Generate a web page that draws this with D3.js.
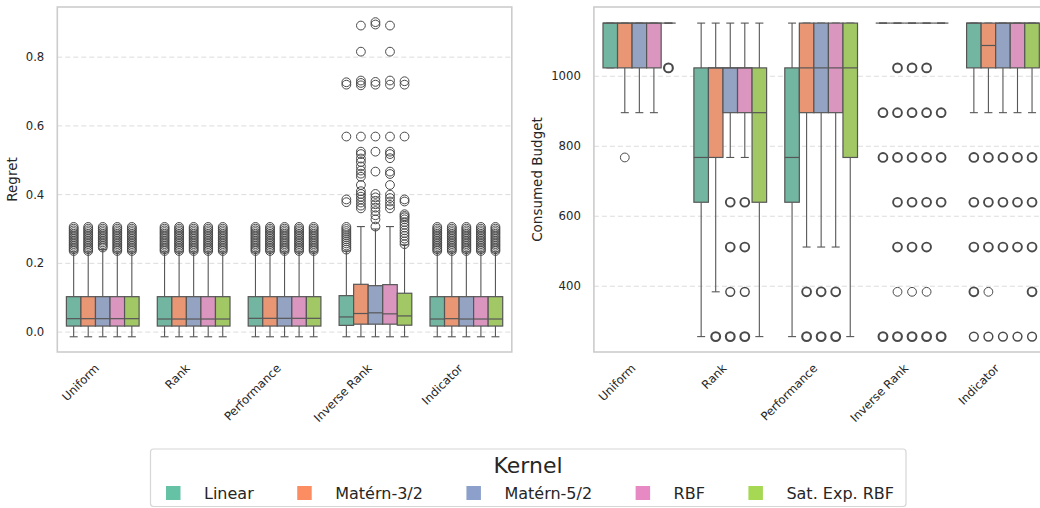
<!DOCTYPE html>
<html>
<head>
<meta charset="utf-8">
<script src="https://cdn.jsdelivr.net/npm/d3@7"></script>
<style>
  html, body { margin: 0; padding: 0; background: #fff; }
  svg { display: block; font-family: "DejaVu Sans", sans-serif; }
</style>
</head>
<body>
<svg id="chart" width="1040" height="508"></svg>
<script>
// ---- data -------------------------------------------------------------
const methods = ["Uniform", "Rank", "Performance", "Inverse Rank", "Indicator"];
const kernels = ["Linear", "Matérn-3/2", "Matérn-5/2", "RBF", "Sat. Exp. RBF"];
const kernelColors = ["#66c2a5", "#fc8d62", "#8da0cb", "#e78ac3", "#a6d854"];

const regretTicks = [0.0, 0.2, 0.4, 0.6, 0.8];
const budgetTicks = [400, 600, 800, 1000];

// Regret box statistics, rows = methods, columns = kernels
const regretQ1 = [
  [0.0175, 0.0175, 0.0175, 0.0175, 0.0175],
  [0.0175, 0.0175, 0.0175, 0.0175, 0.0175],
  [0.0175, 0.0175, 0.0175, 0.0175, 0.0175],
  [0.0195, 0.023, 0.023, 0.023, 0.020],
  [0.0175, 0.0175, 0.0175, 0.0175, 0.0175]
];
const regretMedian = [
  [0.039, 0.039, 0.039, 0.039, 0.039],
  [0.038, 0.038, 0.038, 0.038, 0.038],
  [0.040, 0.040, 0.040, 0.040, 0.040],
  [0.044, 0.054, 0.056, 0.053, 0.047],
  [0.038, 0.039, 0.038, 0.038, 0.038]
];
const regretQ3 = [
  [0.103, 0.103, 0.103, 0.103, 0.103],
  [0.103, 0.103, 0.103, 0.103, 0.103],
  [0.103, 0.103, 0.103, 0.103, 0.103],
  [0.106, 0.139, 0.135, 0.138, 0.113],
  [0.103, 0.103, 0.103, 0.103, 0.103]
];
const regretLow = [
  [-0.0137, -0.0137, -0.0137, -0.0137, -0.0137],
  [-0.0137, -0.0137, -0.0137, -0.0137, -0.0137],
  [-0.0137, -0.0137, -0.0137, -0.0137, -0.0137],
  [-0.0137, -0.0137, -0.0137, -0.0137, -0.0137],
  [-0.0137, -0.0137, -0.0137, -0.0137, -0.0137]
];
const regretHigh = [
  [0.233, 0.233, 0.240, 0.233, 0.233],
  [0.233, 0.233, 0.233, 0.233, 0.233],
  [0.233, 0.233, 0.233, 0.233, 0.233],
  [0.236, 0.307, 0.300, 0.307, 0.254],
  [0.233, 0.233, 0.233, 0.233, 0.233]
];

// Regret outliers
const regretTail = [0.236, 0.241, 0.246, 0.251, 0.256, 0.261, 0.266, 0.271, 0.276,
                    0.281, 0.286, 0.291, 0.296, 0.301, 0.306];
const regretTailHigh = [0.246, 0.251, 0.256, 0.261, 0.266, 0.271, 0.276,
                        0.281, 0.286, 0.291, 0.296, 0.301, 0.306];
const invRankLinear = [0.240, 0.246, 0.252, 0.258, 0.264, 0.270, 0.276, 0.282, 0.288,
                       0.294, 0.300, 0.306, 0.378, 0.386, 0.569, 0.720, 0.727];
const invRankMatern32 = [0.360, 0.368, 0.377, 0.386, 0.394, 0.402, 0.410, 0.428, 0.452,
                         0.461, 0.470, 0.482, 0.495, 0.505, 0.518, 0.525, 0.569,
                         0.718, 0.725, 0.732, 0.816, 0.892];
const invRankMatern52 = [0.307, 0.328, 0.340, 0.352, 0.362, 0.372, 0.382, 0.392, 0.402,
                         0.467, 0.525, 0.569, 0.720, 0.728, 0.895, 0.902];
const invRankRBF = [0.360, 0.370, 0.380, 0.390, 0.400, 0.428, 0.460, 0.467, 0.506,
                    0.518, 0.525, 0.569, 0.720, 0.732, 0.816, 0.892];
const invRankSatExp = [0.256, 0.264, 0.272, 0.280, 0.288, 0.296, 0.304, 0.312, 0.320,
                       0.328, 0.334, 0.338, 0.343, 0.380, 0.386, 0.569, 0.720, 0.730];
const regretOutliers = [
  [regretTail, regretTail, regretTailHigh, regretTail, regretTail],
  [regretTail, regretTail, regretTail, regretTail, regretTail],
  [regretTail, regretTail, regretTail, regretTail, regretTail],
  [invRankLinear, invRankMatern32, invRankMatern52, invRankRBF, invRankSatExp],
  [regretTail, regretTail, regretTail, regretTail, regretTail]
];

// Consumed budget box statistics
const budgetQ1 = [
  [1024, 1024, 1024, 1024, 1152],
  [640, 768, 896, 896, 640],
  [640, 896, 896, 896, 768],
  [1152, 1152, 1152, 1152, 1152],
  [1024, 1024, 1024, 1024, 1024]
];
const budgetMedian = [
  [1152, 1152, 1152, 1152, 1152],
  [768, 1024, 1024, 1024, 896],
  [768, 1024, 1024, 1024, 1024],
  [1152, 1152, 1152, 1152, 1152],
  [1152, 1088, 1152, 1152, 1152]
];
const budgetQ3 = [
  [1152, 1152, 1152, 1152, 1152],
  [1024, 1024, 1024, 1024, 1024],
  [1024, 1152, 1152, 1152, 1152],
  [1152, 1152, 1152, 1152, 1152],
  [1152, 1152, 1152, 1152, 1152]
];
const budgetLow = [
  [1024, 896, 896, 896, 1152],
  [256, 384, 768, 768, 256],
  [256, 512, 512, 512, 256],
  [1152, 1152, 1152, 1152, 1152],
  [896, 896, 896, 896, 896]
];
const budgetHigh = [
  [1152, 1152, 1152, 1152, 1152],
  [1152, 1152, 1152, 1152, 1152],
  [1152, 1152, 1152, 1152, 1152],
  [1152, 1152, 1152, 1152, 1152],
  [1152, 1152, 1152, 1152, 1152]
];
const budgetOutliers = [
  [[], [768], [], [], [1024, 1024, 1024, 1024]],
  [[], [256, 256, 256, 256],
   [640, 640, 640, 512, 512, 512, 384, 384, 256, 256, 256, 256],
   [640, 640, 640, 512, 512, 512, 384, 384, 256, 256, 256, 256],
   []],
  [[], [384, 384, 384, 256, 256, 256, 256],
   [384, 384, 384, 256, 256, 256, 256],
   [384, 384, 384, 256, 256, 256, 256],
   []],
  [[896, 896, 896, 768, 768, 768, 256, 256, 256, 256],
   [1024, 1024, 1024, 896, 896, 896, 768, 768, 768, 640, 640, 640, 512, 512, 512, 384, 256, 256, 256, 256],
   [1024, 1024, 1024, 896, 896, 896, 768, 768, 768, 640, 640, 640, 512, 512, 512, 384, 256, 256, 256, 256],
   [1024, 1024, 1024, 896, 896, 896, 768, 768, 768, 640, 640, 640, 512, 512, 512, 384, 256, 256, 256, 256],
   [896, 896, 896, 768, 768, 768, 640, 640, 640, 256, 256, 256, 256]],
  [[768, 768, 768, 640, 640, 640, 512, 512, 512, 384, 384, 384, 256, 256],
   [768, 768, 768, 640, 640, 640, 512, 512, 512, 384, 256, 256],
   [768, 768, 768, 640, 640, 640, 512, 512, 512, 256, 256],
   [768, 768, 768, 640, 640, 640, 512, 512, 512, 256, 256],
   [768, 768, 768, 640, 640, 640, 512, 512, 512, 384, 384, 384, 256, 256]]
];

// ---- drawing ----------------------------------------------------------
const svg = d3.select("#chart");
const lineColor = "#565656";
const textColor = "#262626";
const boxFills = kernelColors.map(c => { const h = d3.hsl(c); h.s *= 0.75; return h.formatHex(); });

const plotTop = 7, plotBottom = 352;

function drawPanel(p) {
  const g = svg.append("g");
  const x = d3.scaleBand().domain(methods).range([p.x0, p.x1]).padding(0);
  const inner = d3.scaleBand().domain(kernels)
    .range([0.1 * x.bandwidth(), 0.9 * x.bandwidth()]).padding(0);
  const y = d3.scaleLinear().domain(p.domain).range([plotBottom, plotTop]);
  const bw = inner.bandwidth();
  const capW = bw * 0.55;

  // dashed horizontal grid
  g.append("g").selectAll("line").data(p.ticks).join("line")
    .attr("x1", p.x0).attr("x2", p.x1)
    .attr("y1", d => y(d)).attr("y2", d => y(d))
    .attr("stroke", "#dcdcdc").attr("stroke-width", 1)
    .attr("stroke-dasharray", "5,3");

  // y tick labels
  g.append("g").selectAll("text").data(p.ticks).join("text")
    .attr("x", p.x0 - 13).attr("y", d => y(d))
    .attr("dy", "0.35em").attr("text-anchor", "end")
    .attr("font-size", 11.7).attr("fill", textColor)
    .text(p.format);

  // y axis title
  g.append("text")
    .attr("transform", `translate(${p.labelX},${(plotTop + plotBottom) / 2}) rotate(-90)`)
    .attr("text-anchor", "middle").attr("font-size", 13.5).attr("fill", textColor)
    .text(p.label);

  // x tick labels
  g.append("g").selectAll("text").data(methods).join("text")
    .attr("transform", d => `translate(${x(d) + x.bandwidth() / 2 - 3},${plotBottom + 17}) rotate(-45)`)
    .attr("text-anchor", "end").attr("font-size", 11.7).attr("fill", textColor)
    .text(d => d);

  const boxes = [];
  methods.forEach((m, i) => kernels.forEach((k, j) => {
    boxes.push({
      cx: x(m) + inner(k) + bw / 2, left: x(m) + inner(k), j,
      q1: p.q1[i][j], med: p.med[i][j], q3: p.q3[i][j],
      lo: p.lo[i][j], hi: p.hi[i][j], out: p.out[i][j]
    });
  }));

  const bg = g.append("g");
  boxes.forEach(b => {
    const s = bg.append("g");
    // whiskers
    s.append("line").attr("x1", b.cx).attr("x2", b.cx)
      .attr("y1", y(b.q3)).attr("y2", y(b.hi))
      .attr("stroke", lineColor).attr("stroke-width", 1.1);
    s.append("line").attr("x1", b.cx).attr("x2", b.cx)
      .attr("y1", y(b.q1)).attr("y2", y(b.lo))
      .attr("stroke", lineColor).attr("stroke-width", 1.1);
    // caps
    [b.lo, b.hi].forEach(v => {
      s.append("line").attr("x1", b.cx - capW / 2).attr("x2", b.cx + capW / 2)
        .attr("y1", y(v)).attr("y2", y(v))
        .attr("stroke", lineColor).attr("stroke-width", 1.1);
    });
    // box
    s.append("rect").attr("x", b.left).attr("width", bw)
      .attr("y", y(b.q3)).attr("height", Math.max(0, y(b.q1) - y(b.q3)))
      .attr("fill", boxFills[b.j]).attr("stroke", lineColor).attr("stroke-width", 1.2);
    // median
    s.append("line").attr("x1", b.left).attr("x2", b.left + bw)
      .attr("y1", y(b.med)).attr("y2", y(b.med))
      .attr("stroke", lineColor).attr("stroke-width", 1.2);
    // outliers: coincident points are drawn once, heavier the more they repeat
    const counts = Array.from(d3.rollup(b.out, v => v.length, d => d));
    s.selectAll("circle").data(counts).join("circle")
      .attr("cx", b.cx).attr("cy", d => y(d[0])).attr("r", 4.4)
      .attr("fill", "none").attr("stroke", "#4a4a4a")
      .attr("stroke-width", d => Math.min(2.1, 1 + 0.45 * (d[1] - 1)));
  });

  // axes frame
  g.append("rect").attr("x", p.x0).attr("y", plotTop)
    .attr("width", p.x1 - p.x0).attr("height", plotBottom - plotTop)
    .attr("fill", "none").attr("stroke", "#cccccc").attr("stroke-width", 1.6);
}

drawPanel({
  x0: 57.3, x1: 511.8, domain: [-0.058, 0.946], ticks: regretTicks,
  format: d3.format(".1f"), label: "Regret", labelX: 17,
  q1: regretQ1, med: regretMedian, q3: regretQ3, lo: regretLow, hi: regretHigh,
  out: regretOutliers
});

drawPanel({
  x0: 593.9, x1: 1048.4, domain: [212, 1198], ticks: budgetTicks,
  format: d3.format("d"), label: "Consumed Budget", labelX: 542,
  q1: budgetQ1, med: budgetMedian, q3: budgetQ3, lo: budgetLow, hi: budgetHigh,
  out: budgetOutliers
});

// ---- legend -----------------------------------------------------------
const leg = svg.append("g");
leg.append("rect").attr("x", 150.5).attr("y", 449).attr("width", 755.5).attr("height", 57.5)
  .attr("rx", 3).attr("fill", "#fff").attr("stroke", "#d6d6d6").attr("stroke-width", 1.2);
leg.append("text").attr("x", 528).attr("y", 473)
  .attr("text-anchor", "middle").attr("font-size", 22).attr("fill", textColor)
  .text("Kernel");

let lx = 166;
kernels.forEach((k, j) => {
  leg.append("rect").attr("x", lx).attr("y", 486).attr("width", 14.5).attr("height", 14)
    .attr("fill", kernelColors[j]);
  const t = leg.append("text").attr("x", lx + 38).attr("y", 499)
    .attr("font-size", 16).attr("fill", textColor).text(k);
  lx = lx + 38 + t.node().getComputedTextLength() + 43.5;
});
</script>
</body>
</html>
